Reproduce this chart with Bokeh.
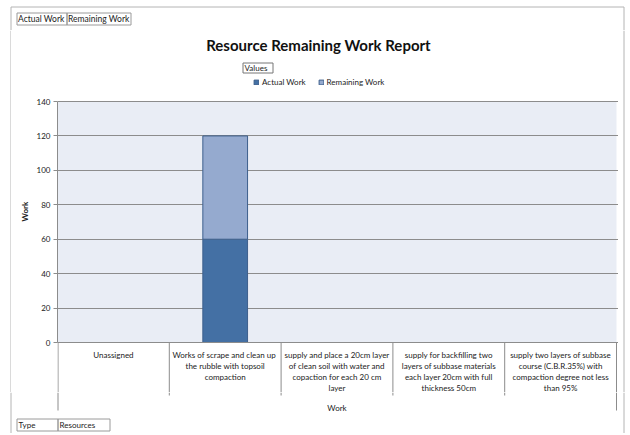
from bokeh.plotting import figure
from bokeh.layouts import column, row
from bokeh.models import (Range1d, FixedTicker, Legend, LegendItem, ColumnDataSource)
from bokeh.core.properties import value
from bokeh.embed import file_html
from bokeh.resources import INLINE

# ---------------- data ----------------
categories = [
    "Unassigned",
    "Works of  scrape and clean up\nthe rubble with topsoil\ncompaction",
    "supply and place a 20cm layer\nof clean soil with water and\ncopaction for each 20 cm\nlayer",
    "supply for backfilling two\nlayers of subbase materials\neach layer 20cm with full\nthickness 50cm",
    "supply two layers of subbase\ncourse (C.B.R.35%) with\ncompaction degree not less\nthan 95%",
]
series = ["Actual Work", "Remaining Work"]
actual_work = [0, 60, 0, 0, 0]
remaining_work = [0, 60, 0, 0, 0]
y_ticks = [0, 20, 40, 60, 80, 100, 120, 140]
title_text = "Resource Remaining Work Report"
axis_title = "Work"
legend_title = "Values"
row_field = ("Type", "Resources")

# ---------------- layout / style ----------------
W = 628
FONT = "Lato"
GRAY = "#8c8c8c"
BORDER = "#b4b4b4"
BOX = "#9a9a9a"
TXT = "#222222"
COLORS = ["#4470a4", "#95aacf"]
BAR_LINE = "#3d5f8c"
PLOT_BG = "#e9edf5"

TOP_H = 30                 # strip with the field buttons: page y 0..30
MAIN_T, MAIN_B = 30, 392   # main chart row: page y 30..392
FOOT_T, FOOT_B = 392, 433  # footer strip
LSTRIP, RSTRIP = 11, 618   # main figure spans page x 11..618
FL, FR = 57, 618           # main frame, page x
AX0, AX1 = 57, 616         # x extent of the categories
Y0PX, YMAXPX = 342, 101    # pixel rows of y=0 and y=140
YMAX = y_ticks[-1]
N = len(categories)
UX = N / (AX1 - AX0)
UY = YMAX / (Y0PX - YMAXPX)


def PX(x):
    return (x - AX0) * UX


def PY(y):
    return (Y0PX - y) * UY


def strip(x_left, x_right, y_top, y_bot):
    f = figure(width=x_right - x_left, height=y_bot - y_top, output_backend="svg",
               toolbar_location=None,
               x_range=Range1d(x_left, x_right), y_range=Range1d(y_bot, y_top),
               x_axis_location=None, y_axis_location=None, min_border=0,
               frame_align=False)
    f.outline_line_color = None
    f.xgrid.visible = False
    f.ygrid.visible = False
    f.background_fill_color = "white"
    f.border_fill_color = "white"
    return f


def txt(f, xs, ys, texts, size="8px", align="left", bold=False, color=TXT):
    f.text(x=xs, y=ys, text=texts, text_font=value(FONT), text_font_size=size,
           text_align=align, text_baseline="middle", text_color=color,
           text_font_style="bold" if bold else "normal")


# ================= top strip =================
top = strip(0, W, 0, TOP_H)
top.multi_line(xs=[[10.5, 10.5, 623.5, 623.5]], ys=[[TOP_H, 6.5, 6.5, TOP_H]],
               line_color=BORDER, line_width=1)
top.quad(left=[16.5, 66.5], right=[66.5, 130.5], top=[12.5, 12.5], bottom=[24.5, 24.5],
         fill_color=None, line_color=BOX)
txt(top, [17.5, 67.5], [18.5, 18.5], series, size="8.5px")

# ================= side strips (outer border) =================
left = strip(0, LSTRIP, MAIN_T, MAIN_B)
left.segment(x0=[10.5], y0=[MAIN_T], x1=[10.5], y1=[MAIN_B], line_color=BORDER)
right = strip(RSTRIP, W, MAIN_T, MAIN_B)
right.segment(x0=[623.5], y0=[MAIN_T], x1=[623.5], y1=[MAIN_B], line_color=BORDER)

# ================= main chart =================
main = figure(width=RSTRIP - LSTRIP, height=MAIN_B - MAIN_T, output_backend="svg",
              toolbar_location=None,
              x_range=Range1d(0, PX(FR)), y_range=Range1d(PY(MAIN_B), PY(MAIN_T)),
              x_axis_location=None,
              min_border_left=FL - LSTRIP, min_border_right=RSTRIP - FR,
              min_border_top=0, min_border_bottom=0, frame_align=False)
main.outline_line_color = None
main.background_fill_color = "white"
main.border_fill_color = "white"
main.xgrid.visible = False

# plot-area background (below the grid)
main.quad(left=[0], right=[N], bottom=[0], top=[YMAX], fill_color=PLOT_BG, line_color=None,
          level="image")

main.ygrid.grid_line_color = GRAY
main.yaxis.ticker = FixedTicker(ticks=y_ticks)
main.yaxis.bounds = (0, YMAX)
main.yaxis.axis_label = axis_title
main.yaxis.axis_label_text_font = FONT
main.yaxis.axis_label_text_font_style = "bold"
main.yaxis.axis_label_text_font_size = "8px"
main.yaxis.axis_label_text_color = TXT
main.yaxis.axis_label_standoff = 4
main.yaxis.major_label_text_font = FONT
main.yaxis.major_label_text_font_size = "8px"
main.yaxis.major_label_text_color = TXT
main.yaxis.major_label_standoff = 3
main.yaxis.major_tick_out = 4
main.yaxis.major_tick_in = 0
main.yaxis.minor_tick_out = 0
main.yaxis.minor_tick_in = 0
main.yaxis.axis_line_color = GRAY
main.yaxis.major_tick_line_color = GRAY

x_pos = [i + 0.5 for i in range(N)]
source = ColumnDataSource(dict(x=x_pos, actual=actual_work, remaining=remaining_work))
rs = main.vbar_stack(["actual", "remaining"], x="x", width=0.4, source=source,
                     color=COLORS, line_color=BAR_LINE, line_width=1)

# title, legend title and legend
txt(main, [PX(318)], [PY(44.5)], [title_text], size="15px", align="center", bold=True,
    color="#111111")
main.quad(left=[PX(242.5)], right=[PX(272.5)], top=[PY(62.5)], bottom=[PY(72.5)],
          fill_color=None, line_color="#777777")
txt(main, [PX(244)], [PY(67.5)], [legend_title])
legend = Legend(items=[LegendItem(label=s, renderers=[r]) for s, r in zip(series, rs)],
                orientation="horizontal", location=(253 - FL, MAIN_B - 87),
                border_line_color=None, background_fill_alpha=0,
                padding=0, margin=0, spacing=12,
                glyph_width=6, glyph_height=6, label_height=10, label_standoff=3,
                label_text_font=FONT, label_text_font_size="8px", label_text_color=TXT)
main.add_layout(legend, "center")

# category table under the axis
main.segment(x0=[0], y0=[0], x1=[N], y1=[0], line_color=GRAY)
main.segment(x0=list(range(1, N)), y0=[0] * (N - 1), x1=list(range(1, N)),
             y1=[PY(MAIN_B)] * (N - 1), line_color=GRAY)
main.segment(x0=[PX(57.5), N], y0=[0, 0], x1=[PX(57.5), N], y1=[PY(MAIN_B), PY(MAIN_B)],
             line_color=GRAY)
lx, ly, lt = [], [], []
for i, c in enumerate(categories):
    for j, ln in enumerate(c.split("\n")):
        lx.append(x_pos[i])
        ly.append(PY(354 + 11 * j))
        lt.append(ln)
txt(main, lx, ly, lt, align="center")

# ================= footer =================
foot = strip(0, W, FOOT_T, FOOT_B)
bx = [AX0 + i * (AX1 - AX0) / N for i in range(1, N)]
foot.segment(x0=bx, y0=[FOOT_T] * len(bx), x1=bx, y1=[395] * len(bx), line_color=GRAY)
foot.segment(x0=[57.5, AX1], y0=[FOOT_T, FOOT_T], x1=[57.5, AX1], y1=[410, 410], line_color=GRAY)
txt(foot, [(AX0 + AX1) / 2], [407], [axis_title], align="center")
foot.multi_line(xs=[[10.5, 10.5], [623.5, 623.5]], ys=[[FOOT_T, FOOT_B], [FOOT_T, FOOT_B]],
                line_color=BORDER)
foot.quad(left=[16.5, 57.5], right=[57.5, 109.5], top=[418.5, 418.5], bottom=[430.5, 430.5],
          fill_color=None, line_color=BOX)
txt(foot, [18, 59], [424.5, 424.5], list(row_field))

layout = column(top, row(left, main, right, spacing=0), foot, spacing=0)
open("out.html", "w").write(file_html(layout, INLINE))
